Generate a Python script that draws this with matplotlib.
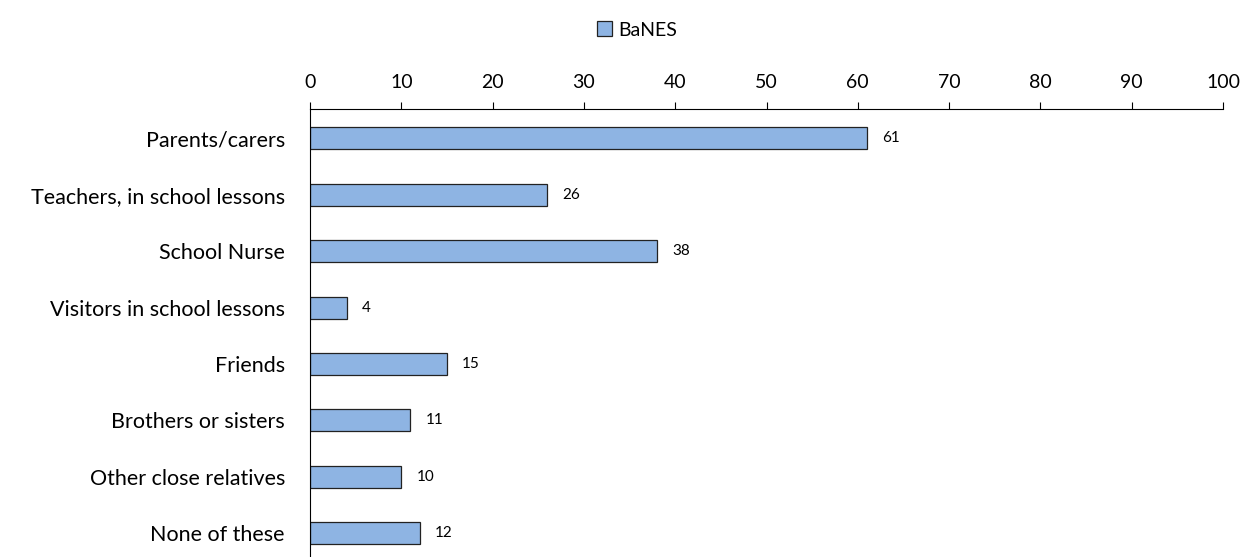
import matplotlib.pyplot as plt
from matplotlib.patches import Patch

categories = ["Parents/carers", "Teachers, in school lessons", "School Nurse",
              "Visitors in school lessons", "Friends", "Brothers or sisters",
              "Other close relatives", "None of these"]
values = [61, 26, 38, 4, 15, 11, 10, 12]
series_name = "BaNES"

plt.rcParams['font.family'] = ['Lato', 'DejaVu Sans']

fig = plt.figure(figsize=(12.47, 5.57), dpi=100)
ax = fig.add_axes([310 / 1247, 0, 913 / 1247, 1 - 109 / 557])

ypos = list(range(len(categories)))
ax.barh(ypos, values, height=0.39, color="#8EB4E3", edgecolor="#222222", linewidth=0.9)

for y, v in zip(ypos, values):
    ax.annotate(str(v), (v, y), xytext=(11, 0), textcoords="offset points",
                va="center", ha="left", fontsize=11)

ax.set_xlim(0, 100)
ax.set_ylim(7.42, -0.52)
ax.set_xticks(range(0, 101, 10))
ax.set_yticks(ypos)
ax.set_yticklabels(categories)
ax.xaxis.tick_top()
ax.tick_params(axis="x", direction="out", length=5, labelsize=14, pad=8)
ax.tick_params(axis="y", length=0, labelsize=15.5, pad=18)
for s in ["right", "bottom"]:
    ax.spines[s].set_visible(False)

fig.legend(handles=[Patch(facecolor="#8EB4E3", edgecolor="#222222", linewidth=0.9, label=series_name)],
           loc="center", bbox_to_anchor=(637 / 1247, 1 - 30 / 557), frameon=False,
           fontsize=14, handlelength=0.8, handleheight=0.8, handletextpad=0.3)

fig.savefig("out.png", dpi=100)
